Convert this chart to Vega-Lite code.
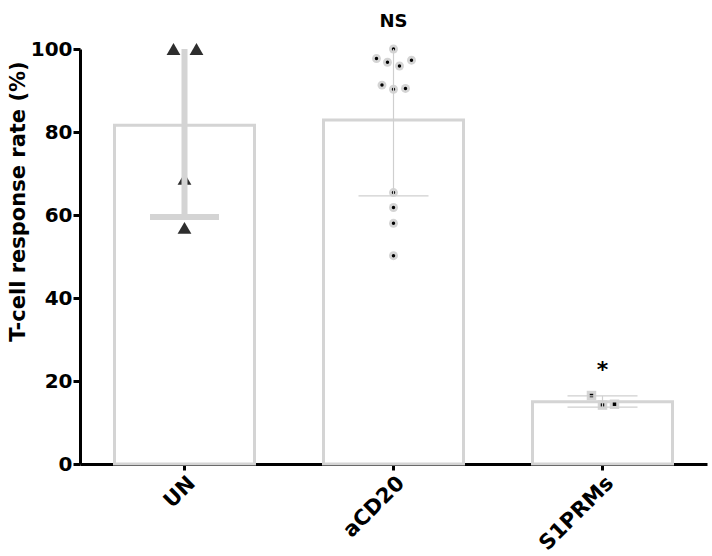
{
  "$schema": "https://vega.github.io/schema/vega-lite/v6.json",
  "width": 627,
  "height": 415,
  "autosize": {"type": "none"},
  "padding": {"left": 80, "top": 49, "right": 5, "bottom": 92},
  "background": "white",
  "config": {
    "font": "DejaVu Sans",
    "view": {"stroke": null},
    "axis": {"labelColor": "black", "titleColor": "black", "domainColor": "black", "tickColor": "black"}
  },
  "title": {"text": "NS", "fontSize": 18, "fontWeight": "bold", "color": "black", "offset": 8, "anchor": "middle"},
  "datasets": {
    "bars": [
      {"group": "UN", "value": 81.6},
      {"group": "aCD20", "value": 82.9},
      {"group": "S1PRMs", "value": 15.0}
    ],
    "points": [
      {"group": "UN", "value": 100, "jitter": -11},
      {"group": "UN", "value": 100, "jitter": 12},
      {"group": "UN", "value": 68.7, "jitter": 0},
      {"group": "UN", "value": 56.9, "jitter": 0},
      {"group": "aCD20", "value": 100, "jitter": 0},
      {"group": "aCD20", "value": 97.7, "jitter": -17},
      {"group": "aCD20", "value": 96.8, "jitter": -6},
      {"group": "aCD20", "value": 95.9, "jitter": 6},
      {"group": "aCD20", "value": 97.3, "jitter": 18},
      {"group": "aCD20", "value": 91.3, "jitter": -11.5},
      {"group": "aCD20", "value": 90.3, "jitter": 0},
      {"group": "aCD20", "value": 90.5, "jitter": 12},
      {"group": "aCD20", "value": 65.4, "jitter": 0},
      {"group": "aCD20", "value": 61.8, "jitter": 0},
      {"group": "aCD20", "value": 58.0, "jitter": 0},
      {"group": "aCD20", "value": 50.2, "jitter": 0},
      {"group": "S1PRMs", "value": 16.5, "jitter": -11},
      {"group": "S1PRMs", "value": 14.2, "jitter": 0},
      {"group": "S1PRMs", "value": 14.4, "jitter": 12}
    ],
    "errors": [
      {"group": "UN", "lo": 59.5, "hi": 100},
      {"group": "aCD20", "lo": 64.6, "hi": 100},
      {"group": "S1PRMs", "lo": 13.7, "hi": 16.4}
    ],
    "caps": [
      {"group": "UN", "value": 59.5},
      {"group": "aCD20", "value": 64.6},
      {"group": "S1PRMs", "value": 13.7},
      {"group": "S1PRMs", "value": 16.4}
    ],
    "sig": [
      {"group": "S1PRMs", "value": 22.7, "label": "*"}
    ]
  },
  "encoding": {
    "x": {
      "field": "group",
      "type": "nominal",
      "sort": ["UN", "aCD20", "S1PRMs"],
      "scale": {"paddingInner": 0.33, "paddingOuter": 0.165},
      "axis": {
        "title": null,
        "labelAngle": -45,
        "labelFontSize": 21,
        "labelFontWeight": "bold",
        "labelPadding": 2,
        "domainWidth": 3,
        "tickWidth": 3,
        "tickSize": 6
      }
    }
  },
  "layer": [
    {
      "data": {"name": "bars"},
      "mark": {"type": "bar", "fill": "white", "stroke": "#d4d4d4", "strokeWidth": 3, "width": 140},
      "encoding": {
        "y": {
          "field": "value",
          "type": "quantitative",
          "title": "T-cell response rate (%)",
          "scale": {"domain": [0, 100], "nice": false},
          "axis": {
            "values": [0, 20, 40, 60, 80, 100],
            "grid": false,
            "labelFontSize": 20,
            "labelFontWeight": "bold",
            "labelPadding": 1,
            "tickSize": 7,
            "tickWidth": 3,
            "domainWidth": 3,
            "titleFontSize": 21,
            "titleFontWeight": "bold",
            "titlePadding": 2,
            "titleY": 152
          }
        }
      }
    },
    {
      "data": {"name": "points"},
      "transform": [{"filter": "datum.group === 'UN'"}],
      "mark": {"type": "point", "shape": "triangle-up", "filled": true, "color": "#2e2e2e", "size": 190, "opacity": 1},
      "encoding": {
        "y": {"field": "value", "type": "quantitative", "title": "T-cell response rate (%)"},
        "xOffset": {"field": "jitter", "type": "quantitative", "scale": {"domain": [-70, 70], "range": [0, 140]}}
      }
    },
    {
      "data": {"name": "points"},
      "transform": [{"filter": "datum.group === 'aCD20'"}],
      "mark": {"type": "circle", "color": "#d4d4d4", "size": 80, "opacity": 1},
      "encoding": {
        "y": {"field": "value", "type": "quantitative", "title": "T-cell response rate (%)"},
        "xOffset": {"field": "jitter", "type": "quantitative", "scale": {"domain": [-70, 70], "range": [0, 140]}}
      }
    },
    {
      "data": {"name": "points"},
      "transform": [{"filter": "datum.group === 'aCD20'"}],
      "mark": {"type": "circle", "color": "black", "size": 12, "opacity": 1},
      "encoding": {
        "y": {"field": "value", "type": "quantitative", "title": "T-cell response rate (%)"},
        "xOffset": {"field": "jitter", "type": "quantitative", "scale": {"domain": [-70, 70], "range": [0, 140]}}
      }
    },
    {
      "data": {"name": "points"},
      "transform": [{"filter": "datum.group === 'S1PRMs'"}],
      "mark": {"type": "square", "color": "#d4d4d4", "size": 90, "opacity": 1},
      "encoding": {
        "y": {"field": "value", "type": "quantitative", "title": "T-cell response rate (%)"},
        "xOffset": {"field": "jitter", "type": "quantitative", "scale": {"domain": [-70, 70], "range": [0, 140]}}
      }
    },
    {
      "data": {"name": "points"},
      "transform": [{"filter": "datum.group === 'S1PRMs'"}],
      "mark": {"type": "square", "color": "black", "size": 12, "opacity": 1},
      "encoding": {
        "y": {"field": "value", "type": "quantitative", "title": "T-cell response rate (%)"},
        "xOffset": {"field": "jitter", "type": "quantitative", "scale": {"domain": [-70, 70], "range": [0, 140]}}
      }
    },
    {
      "data": {"name": "errors"},
      "transform": [{"filter": "datum.group === 'UN'"}],
      "mark": {"type": "rule", "color": "#d4d4d4", "strokeWidth": 6},
      "encoding": {
        "y": {"field": "lo", "type": "quantitative", "title": "T-cell response rate (%)"},
        "y2": {"field": "hi"}
      }
    },
    {
      "data": {"name": "errors"},
      "transform": [{"filter": "datum.group !== 'UN'"}],
      "mark": {"type": "rule", "color": "#cfcfcf", "strokeWidth": 1.2},
      "encoding": {
        "y": {"field": "lo", "type": "quantitative", "title": "T-cell response rate (%)"},
        "y2": {"field": "hi"}
      }
    },
    {
      "data": {"name": "caps"},
      "transform": [{"filter": "datum.group === 'UN'"}],
      "mark": {"type": "tick", "color": "#d4d4d4", "size": 69, "thickness": 6, "orient": "horizontal", "opacity": 1},
      "encoding": {
        "y": {"field": "value", "type": "quantitative", "title": "T-cell response rate (%)"}
      }
    },
    {
      "data": {"name": "caps"},
      "transform": [{"filter": "datum.group !== 'UN'"}],
      "mark": {"type": "tick", "color": "#cfcfcf", "size": 70, "thickness": 1.2, "orient": "horizontal", "opacity": 1},
      "encoding": {
        "y": {"field": "value", "type": "quantitative", "title": "T-cell response rate (%)"}
      }
    },
    {
      "data": {"name": "sig"},
      "mark": {"type": "text", "fontSize": 22, "fontWeight": "bold", "color": "black", "baseline": "middle"},
      "encoding": {
        "y": {"field": "value", "type": "quantitative", "title": "T-cell response rate (%)"},
        "text": {"field": "label"}
      }
    }
  ]
}
